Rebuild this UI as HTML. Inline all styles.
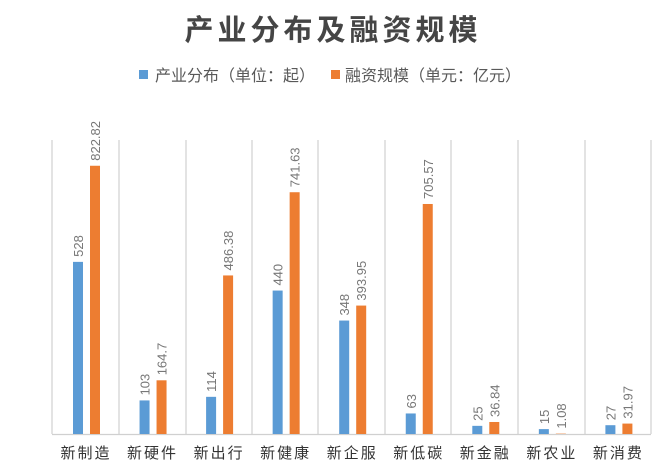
<!DOCTYPE html><html><head><meta charset="utf-8"><style>
body{margin:0;background:#fff;width:660px;height:465px;overflow:hidden;font-family:"Liberation Sans","Noto Sans CJK SC",sans-serif}
</style></head><body>
<svg width="660" height="465" xmlns="http://www.w3.org/2000/svg" font-family="Liberation Sans, Noto Sans CJK SC, sans-serif">
<text x="333" y="40" text-anchor="middle" font-size="29" font-weight="bold" fill="#454545" letter-spacing="4">产业分布及融资规模</text>
<rect x="139" y="70" width="9" height="9" fill="#5b9bd5"/>
<text x="155" y="81" font-size="16" fill="#595959">产业分布（单位：起）</text>
<rect x="331" y="70" width="9" height="9" fill="#ed7d31"/>
<text x="345" y="81" font-size="16" fill="#595959">融资规模（单元：亿元）</text>
<g stroke="#d0d0d0" stroke-width="1.2">
<line x1="52" y1="140" x2="52" y2="434"/><line x1="119" y1="140" x2="119" y2="434"/><line x1="186" y1="140" x2="186" y2="434"/><line x1="252" y1="140" x2="252" y2="434"/><line x1="318" y1="140" x2="318" y2="434"/><line x1="385" y1="140" x2="385" y2="434"/><line x1="451" y1="140" x2="451" y2="434"/><line x1="518" y1="140" x2="518" y2="434"/><line x1="585" y1="140" x2="585" y2="434"/><line x1="651" y1="140" x2="651" y2="434"/>
<line x1="52" y1="434.5" x2="651" y2="434.5"/>
</g>
<g id="bars"></g>
</svg>
<script>
var d=[["新制造",528,"528",822.82,"822.82"],["新硬件",103,"103",164.7,"164.7"],["新出行",114,"114",486.38,"486.38"],["新健康",440,"440",741.63,"741.63"],["新企服",348,"348",393.95,"393.95"],["新低碳",63,"63",705.57,"705.57"],["新金融",25,"25",36.84,"36.84"],["新农业",15,"15",1.08,"1.08"],["新消费",27,"27",31.97,"31.97"]];
var g=document.getElementById("bars"),s="",k=0.326,B=434;
d.forEach(function(r,i){var c=52+i*66.55;
var h1=r[1]*k,h2=r[3]*k;
s+='<rect x="'+(c+21)+'" y="'+(B-h1)+'" width="10" height="'+h1+'" fill="#5b9bd5"/>';
s+='<rect x="'+(c+38)+'" y="'+(B-h2)+'" width="10" height="'+h2+'" fill="#ed7d31"/>';
s+='<text transform="translate('+(c+31)+','+(B-h1-5)+') rotate(-90)" font-size="13" fill="#777">'+r[2]+'</text>';
s+='<text transform="translate('+(c+48)+','+(B-h2-5)+') rotate(-90)" font-size="13" fill="#777">'+r[4]+'</text>';
s+='<text x="'+(c+34)+'" y="458" text-anchor="middle" font-size="15" fill="#333" letter-spacing="2">'+r[0]+'</text>';});
g.innerHTML=s;
</script>
</body></html>
